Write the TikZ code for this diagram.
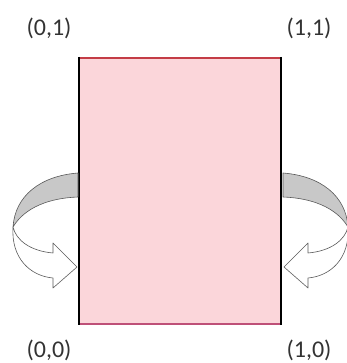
\documentclass[tikz,border=0pt]{standalone}
\usepackage{fontspec}
\setmainfont{Carlito}
\definecolor{sheet}{RGB}{251,214,218}
\definecolor{topedge}{RGB}{196,60,70}
\definecolor{botedge}{RGB}{190,80,120}
\definecolor{band}{RGB}{200,200,200}
\tikzset{
  corner/.style={font=\fontsize{24}{24}\selectfont, text=black!80, inner sep=0pt},
  ribbon/.style={draw=black!65, line width=0.6pt, line join=round},
}

\begin{document}
\begin{tikzpicture}[x=1pt,y=-1pt]
\useasboundingbox (0,0) rectangle (346,363);

% the sheet
\fill[sheet] (79,58) rectangle (281,324);
\draw[topedge, line width=1.2pt] (79,58) -- (281,58);
\draw[botedge, line width=1.2pt] (79,324) -- (281,324);
\draw[black, line width=2.4pt] (79,57) -- (79,325);
\draw[black, line width=2.4pt] (281,57) -- (281,325);

% curled arrows, left one and its mirror
\foreach \side/\sx in {0/1, 361/-1} {
  \begin{scope}[xshift=\side, xscale=\sx]
    \filldraw[ribbon, fill=band] (78,173) .. controls (40,176) and (15,196) .. (13,227)
      .. controls (25,207) and (50,198) .. (78,197) -- cycle;
    \filldraw[ribbon, fill=white] (13,227) .. controls (11,258) and (30,276) .. (53,278)
      -- (53,288) -- (77,267) -- (53,243) -- (53,253)
      .. controls (30,251) and (16,240) .. (13,227) -- cycle;
  \end{scope}
}

% corner labels
\node[corner] (c01) at (49,28) {(0,1)};
\node[corner] (c11) at (309,28) {(1,1)};
\node[corner] (c00) at (49,350) {(0,0)};
\node[corner] (c10) at (309,350) {(1,0)};
\end{tikzpicture}
\end{document}
